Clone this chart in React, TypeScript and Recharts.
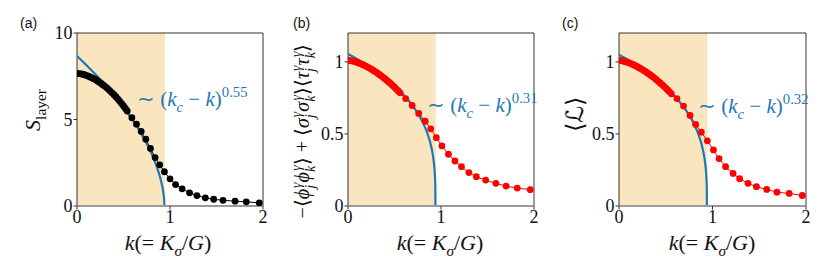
import React from "react";
import {
  ComposedChart,
  Line,
  XAxis,
  YAxis,
  ReferenceArea,
  ReferenceLine,
} from "recharts";

// ---- data ----
const kTicks = [0, 1, 2];
const ticksA = [0, 5, 10];
const ticksBC = [0, 0.5, 1];
const shadeEnd = 0.945;

// (a) S_layer
const kA = [
  0, 0.02, 0.04, 0.06, 0.08, 0.1, 0.12, 0.14, 0.16, 0.18, 0.2, 0.22, 0.24, 0.26,
  0.28, 0.3, 0.32, 0.34, 0.36, 0.38, 0.4, 0.42, 0.44, 0.46, 0.48, 0.5, 0.52, 0.54,
  0.59, 0.64, 0.69, 0.74, 0.79, 0.84, 0.89, 0.94, 1.0, 1.06, 1.13, 1.21, 1.29,
  1.38, 1.47, 1.57, 1.7, 1.82, 1.96,
];
const sLayer = [
  7.65, 7.65, 7.64, 7.62, 7.59, 7.55, 7.51, 7.46, 7.41, 7.36, 7.3, 7.23, 7.16, 7.08,
  7.0, 6.92, 6.83, 6.73, 6.63, 6.53, 6.42, 6.3, 6.18, 6.05, 5.92, 5.78, 5.64, 5.49,
  5.1, 4.73, 4.31, 3.86, 3.33, 2.8, 2.38, 1.98, 1.57, 1.24, 0.99, 0.76, 0.6, 0.47,
  0.39, 0.33, 0.28, 0.24, 0.18,
];
const kFitA = [0, 0.1, 0.2, 0.3, 0.4, 0.5, 0.6, 0.7, 0.8, 0.85, 0.9, 0.92, 0.93, 0.935, 0.938, 0.94];
const fitA = [8.67, 8.15, 7.6, 7.02, 6.39, 5.71, 4.96, 4.09, 3.04, 2.39, 1.53, 1.04, 0.71, 0.49, 0.29, 0];

// (b) correlator
const kB = [
  0, 0.02, 0.04, 0.06, 0.08, 0.1, 0.12, 0.14, 0.16, 0.18, 0.2, 0.22, 0.24, 0.26,
  0.28, 0.3, 0.32, 0.34, 0.36, 0.38, 0.4, 0.42, 0.44, 0.46, 0.48, 0.5, 0.52, 0.54,
  0.56, 0.62, 0.69, 0.76, 0.83, 0.89, 0.95, 1.01, 1.08, 1.15, 1.22, 1.3, 1.38,
  1.48, 1.59, 1.7, 1.82, 1.96,
];
const corrB = [
  1.01, 1.009, 1.007, 1.004, 1.0, 0.996, 0.991, 0.986, 0.98, 0.974, 0.967, 0.96,
  0.953, 0.945, 0.937, 0.929, 0.92, 0.911, 0.901, 0.891, 0.881, 0.87, 0.859, 0.848,
  0.836, 0.824, 0.811, 0.798, 0.785, 0.745, 0.697, 0.642, 0.588, 0.535, 0.474,
  0.417, 0.359, 0.312, 0.273, 0.232, 0.203, 0.18, 0.157, 0.138, 0.124, 0.113,
];
const kFitBC = [0, 0.1, 0.2, 0.3, 0.4, 0.5, 0.6, 0.7, 0.8, 0.85, 0.9, 0.92, 0.93, 0.935, 0.938, 0.9395, 0.94];
const fitB = [1.055, 1.019, 0.98, 0.937, 0.889, 0.834, 0.77, 0.691, 0.585, 0.51, 0.397, 0.32, 0.258, 0.208, 0.157, 0.102, 0];

// (c) <L>
const kC = [
  0, 0.02, 0.04, 0.06, 0.08, 0.1, 0.12, 0.14, 0.16, 0.18, 0.2, 0.22, 0.24, 0.26,
  0.28, 0.3, 0.32, 0.34, 0.36, 0.38, 0.4, 0.42, 0.44, 0.46, 0.48, 0.5, 0.52, 0.54,
  0.56, 0.62, 0.69, 0.76, 0.82, 0.88, 0.945, 1.01, 1.07, 1.14, 1.22, 1.29, 1.38,
  1.47, 1.58, 1.69, 1.82, 1.96,
];
const lC = [
  1.01, 1.009, 1.006, 1.003, 0.999, 0.995, 0.99, 0.984, 0.978, 0.972, 0.965, 0.958,
  0.95, 0.942, 0.934, 0.925, 0.916, 0.907, 0.897, 0.887, 0.876, 0.865, 0.854, 0.842,
  0.83, 0.818, 0.805, 0.792, 0.778, 0.745, 0.693, 0.628, 0.566, 0.512, 0.452,
  0.389, 0.329, 0.273, 0.226, 0.189, 0.157, 0.134, 0.115, 0.096, 0.087, 0.073,
];
const fitC = [1.05, 1.013, 0.973, 0.928, 0.879, 0.823, 0.758, 0.678, 0.571, 0.496, 0.382, 0.306, 0.245, 0.197, 0.146, 0.094, 0];

const zip = (ks: number[], vs: number[]) => ks.map((k, i) => ({ k, v: vs[i] }));

const SERIF = "Liberation Serif";
const BLUE = "#1f77b4";

type PanelProps = {
  left: number;
  width: number;
  yMax: number;
  yTicks: number[];
  points: { k: number; v: number }[];
  fit: { k: number; v: number }[];
  color: string;
};

function Panel({ left, width, yMax, yTicks, points, fit, color }: PanelProps) {
  const tickStyle = { fill: "#111", fontFamily: SERIF, fontSize: 18 };
  return (
    <div style={{ position: "absolute", left, top: 0 }}>
      <ComposedChart width={width} height={242} margin={{ top: 33, right: 5, bottom: 6, left: 0 }}>
        <ReferenceArea x1={0} x2={shadeEnd} y1={0} y2={yMax} fill="#f9e6bf" fillOpacity={1} stroke="none" />
        <XAxis
          type="number"
          dataKey="k"
          domain={[0, 2]}
          ticks={kTicks}
          allowDataOverflow
          axisLine={false}
          tickSize={3.5}
          tickMargin={1}
          height={30}
          tickLine={{ stroke: "#333" }}
          tick={tickStyle}
        />
        <YAxis
          type="number"
          dataKey="v"
          domain={[0, yMax]}
          ticks={yTicks}
          allowDataOverflow
          axisLine={false}
          width={40}
          tickSize={3.5}
          tickMargin={1}
          tickLine={{ stroke: "#333" }}
          tick={tickStyle}
        />
        <Line
          data={points}
          dataKey="v"
          type="linear"
          stroke={color}
          strokeWidth={1}
          dot={{ r: 3.4, fill: color, stroke: color, strokeWidth: 0 }}
          activeDot={false}
          isAnimationActive={false}
        />
        <Line
          data={fit}
          dataKey="v"
          type="monotone"
          stroke={BLUE}
          strokeWidth={2.2}
          dot={false}
          activeDot={false}
          isAnimationActive={false}
        />
        <ReferenceLine y={0} stroke="#9a9a9a" strokeWidth={2} />
        <ReferenceArea x1={0} x2={2} y1={0} y2={yMax} fill="none" stroke="#333" strokeWidth={1} />
      </ComposedChart>
    </div>
  );
}

type Piece = { t: string; it?: boolean; pos?: "sub" | "sup"; back?: number };

function MathText({
  x,
  y,
  size,
  pieces,
  fill = "#111",
  anchor = "start",
  rot = false,
}: {
  x: number;
  y: number;
  size: number;
  pieces: Piece[];
  fill?: string;
  anchor?: "start" | "middle" | "end";
  rot?: boolean;
}) {
  let cur = 0;
  const spans = pieces.map((p, i) => {
    const target = p.pos === "sub" ? size * 0.28 : p.pos === "sup" ? -size * 0.42 : 0;
    const dy = target - cur;
    cur = target;
    return (
      <tspan
        key={i}
        dy={dy}
        dx={p.back ? -p.back : undefined}
        fontStyle={p.it ? "italic" : "normal"}
        fontSize={p.pos ? size * 0.7 : size}
      >
        {p.t}
      </tspan>
    );
  });
  return (
    <text
      x={x}
      y={y}
      textAnchor={anchor}
      fill={fill}
      fontFamily={SERIF}
      fontSize={size}
      style={{ whiteSpace: "pre" }}
      transform={rot ? `rotate(-90 ${x} ${y})` : undefined}
    >
      {spans}
    </text>
  );
}

const xLabel: Piece[] = [
  { t: "k", it: true },
  { t: "(= " },
  { t: "K", it: true },
  { t: "σ", it: true, pos: "sub" },
  { t: "/" },
  { t: "G", it: true },
  { t: ")" },
];

const fitLabel = (exp: string): Piece[] => [
  { t: "∼ (" },
  { t: "k", it: true },
  { t: "c", it: true, pos: "sub" },
  { t: " − " },
  { t: "k", it: true },
  { t: ")" },
  { t: exp, pos: "sup" },
];

const pair = (g: string): Piece[] => [
  { t: g, it: true },
  { t: "j", it: true, pos: "sub" },
  { t: "γ", it: true, pos: "sup", back: 3 },
  { t: g, it: true },
  { t: "k", it: true, pos: "sub" },
  { t: "γ", it: true, pos: "sup", back: 5 },
];

const corrLabel: Piece[] = [
  { t: "−⟨" },
  ...pair("ϕ"),
  { t: "⟩ + ⟨" },
  ...pair("σ"),
  { t: "⟩⟨" },
  ...pair("τ"),
  { t: "⟩" },
];

export default function App() {
  return (
    <div style={{ position: "absolute", left: 0, top: 0, width: 830, height: 277, background: "#fff" }}>
      <Panel left={37} width={231} yMax={10} yTicks={ticksA} points={zip(kA, sLayer)} fit={zip(kFitA, fitA)} color="#000" />
      <Panel left={308} width={231} yMax={1.2} yTicks={ticksBC} points={zip(kB, corrB)} fit={zip(kFitBC, fitB)} color="#ff0000" />
      <Panel left={579} width={232} yMax={1.2} yTicks={ticksBC} points={zip(kC, lC)} fit={zip(kFitBC, fitC)} color="#ff0000" />
      <svg width={830} height={277} style={{ position: "absolute", left: 0, top: 0, pointerEvents: "none" }}>
        <g fontFamily="Liberation Sans" fontSize={14} fill="#111">
          <text x={20} y={28}>(a)</text>
          <text x={293} y={28}>(b)</text>
          <text x={562} y={28}>(c)</text>
        </g>
        <MathText x={168} y={250} size={22} anchor="middle" pieces={xLabel} />
        <MathText x={440} y={250} size={22} anchor="middle" pieces={xLabel} />
        <MathText x={712} y={250} size={22} anchor="middle" pieces={xLabel} />
        <MathText x={40} y={110} size={22} anchor="middle" rot pieces={[{ t: "S", it: true }, { t: "layer", pos: "sub" }]} />
        <MathText x={309} y={131} size={20} anchor="middle" rot pieces={corrLabel} />
        <MathText x={583} y={114} size={24} anchor="middle" rot pieces={[{ t: "⟨ℒ⟩" }]} />
        <MathText x={137} y={106} size={21} fill={BLUE} pieces={fitLabel("0.55")} />
        <MathText x={427} y={112} size={21} fill={BLUE} pieces={fitLabel("0.31")} />
        <MathText x={698} y={113} size={21} fill={BLUE} pieces={fitLabel("0.32")} />
      </svg>
    </div>
  );
}
